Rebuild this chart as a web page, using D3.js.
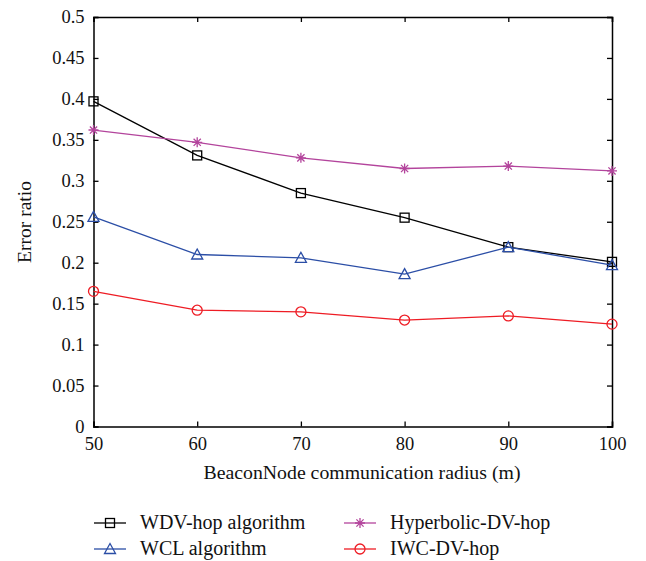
<!DOCTYPE html>
<html>
<head>
<meta charset="utf-8">
<script src="https://cdn.jsdelivr.net/npm/d3@7"></script>
<style>
  body { margin: 0; background: #fff; }
  svg text { font-family: "Liberation Serif", "DejaVu Serif", serif; }
</style>
</head>
<body>
<div class="vis"></div>
<script>
(function() {
  'use strict';

  var radius = [50, 60, 70, 80, 90, 100];
  var wdvHop = [0.397, 0.331, 0.285, 0.255, 0.219, 0.201];
  var hyperbolic = [0.362, 0.347, 0.328, 0.315, 0.318, 0.312];
  var wcl = [0.256, 0.210, 0.206, 0.186, 0.219, 0.197];
  var iwc = [0.165, 0.142, 0.140, 0.130, 0.135, 0.125];
  var yTicks = [0, 0.05, 0.1, 0.15, 0.2, 0.25, 0.3, 0.35, 0.4, 0.45, 0.5];
  var yTickLabels = ['0', '0.05', '0.1', '0.15', '0.2', '0.25', '0.3', '0.35', '0.4', '0.45', '0.5'];

  var series = [
    {name: 'WDV-hop algorithm', values: wdvHop, color: '#000000', marker: 'square'},
    {name: 'WCL algorithm', values: wcl, color: '#2b4ea6', marker: 'triangle'},
    {name: 'Hyperbolic-DV-hop', values: hyperbolic, color: '#b3449c', marker: 'star'},
    {name: 'IWC-DV-hop', values: iwc, color: '#ee1c24', marker: 'circle'}
  ];

  var elWidth = 646, elHeight = 561,
    margin = {top: 17, right: 34, bottom: 134.5, left: 93.5},
    width = elWidth - margin.left - margin.right,
    height = elHeight - margin.top - margin.bottom;

  var root = d3.select('.vis').append('svg')
      .attr('width', elWidth)
      .attr('height', elHeight);

  var svg = root.append('g')
      .attr('transform', 'translate(' + margin.left + ',' + margin.top + ')');

  var x = d3.scaleLinear().domain([50, 100]).range([0, width]);
  var y = d3.scaleLinear().domain([0, 0.5]).range([height, 0]);

  // axes with inward ticks on all four sides
  var tickLen = 5;
  svg.append('g')
      .attr('transform', 'translate(0,' + height + ')')
      .call(d3.axisBottom(x).tickValues(radius).tickSize(-tickLen).tickPadding(10))
      .call(styleAxis);
  svg.append('g')
      .call(d3.axisTop(x).tickValues(radius).tickSize(-tickLen).tickFormat(''))
      .call(styleAxis);
  svg.append('g')
      .call(d3.axisLeft(y).tickValues(yTicks).tickSize(-tickLen).tickPadding(9)
        .tickFormat(function(d, i) { return yTickLabels[i]; }))
      .call(styleAxis);
  svg.append('g')
      .attr('transform', 'translate(' + width + ',0)')
      .call(d3.axisRight(y).tickValues(yTicks).tickSize(-tickLen).tickFormat(''))
      .call(styleAxis);

  function styleAxis(g) {
    g.attr('font-family', null);
    g.select('.domain').attr('stroke', '#000').attr('stroke-width', 1.5);
    g.selectAll('.tick line').attr('stroke', '#000').attr('stroke-width', 1.3);
    g.selectAll('.tick text')
      .attr('fill', '#111')
      .style('font-size', '18.5px');
  }

  var line = d3.line()
    .x(function(d, i) { return x(radius[i]); })
    .y(function(d) { return y(d); });

  function drawMarker(g, type, color) {
    if (type === 'square') {
      g.append('rect').attr('x', -4.5).attr('y', -4.5).attr('width', 9).attr('height', 9)
        .attr('fill', 'none').attr('stroke', color).attr('stroke-width', 1.3);
    } else if (type === 'triangle') {
      g.append('path').attr('d', 'M0,-5.5L5.5,4.5L-5.5,4.5Z')
        .attr('fill', 'none').attr('stroke', color).attr('stroke-width', 1.3);
    } else if (type === 'circle') {
      g.append('circle').attr('r', 5)
        .attr('fill', 'none').attr('stroke', color).attr('stroke-width', 1.3);
    } else {
      var a = 5;
      g.append('path')
        .attr('d', 'M-' + a + ',0L' + a + ',0M0,-' + a + 'L0,' + a +
          'M-3.6,-3.6L3.6,3.6M-3.6,3.6L3.6,-3.6')
        .attr('stroke', color).attr('stroke-width', 1.3);
    }
  }

  series.forEach(function(s) {
    svg.append('path')
      .datum(s.values)
      .attr('fill', 'none')
      .attr('stroke', s.color)
      .attr('stroke-width', 1.3)
      .attr('d', line);

    svg.selectAll(null)
      .data(s.values)
      .enter()
      .append('g')
        .attr('transform', function(d, i) {
          return 'translate(' + x(radius[i]) + ',' + y(d) + ')';
        })
        .each(function() { drawMarker(d3.select(this), s.marker, s.color); });
  });

  // axis titles
  root.append('text')
    .attr('x', 362)
    .attr('y', 479)
    .attr('text-anchor', 'middle')
    .attr('fill', '#111')
    .style('font-size', '19.8px')
    .text('BeaconNode communication radius (m)');

  root.append('text')
    .attr('transform', 'translate(31,222) rotate(-90)')
    .attr('text-anchor', 'middle')
    .attr('fill', '#111')
    .style('font-size', '19.5px')
    .text('Error ratio');

  // legend
  var legendPos = [[94, 523], [94, 549], [344, 523], [344, 549]];
  series.forEach(function(s, i) {
    var lg = root.append('g')
      .attr('transform', 'translate(' + legendPos[i][0] + ',' + legendPos[i][1] + ')');
    lg.append('line').attr('x1', 0).attr('x2', 32).attr('y1', 0).attr('y2', 0)
      .attr('stroke', s.color).attr('stroke-width', 1.3);
    drawMarker(lg.append('g').attr('transform', 'translate(16,0)'), s.marker, s.color);
    lg.append('text')
      .attr('x', 46)
      .attr('y', 6)
      .attr('fill', '#111')
      .style('font-size', '20px')
      .text(s.name);
  });
}());
</script>
</body>
</html>
